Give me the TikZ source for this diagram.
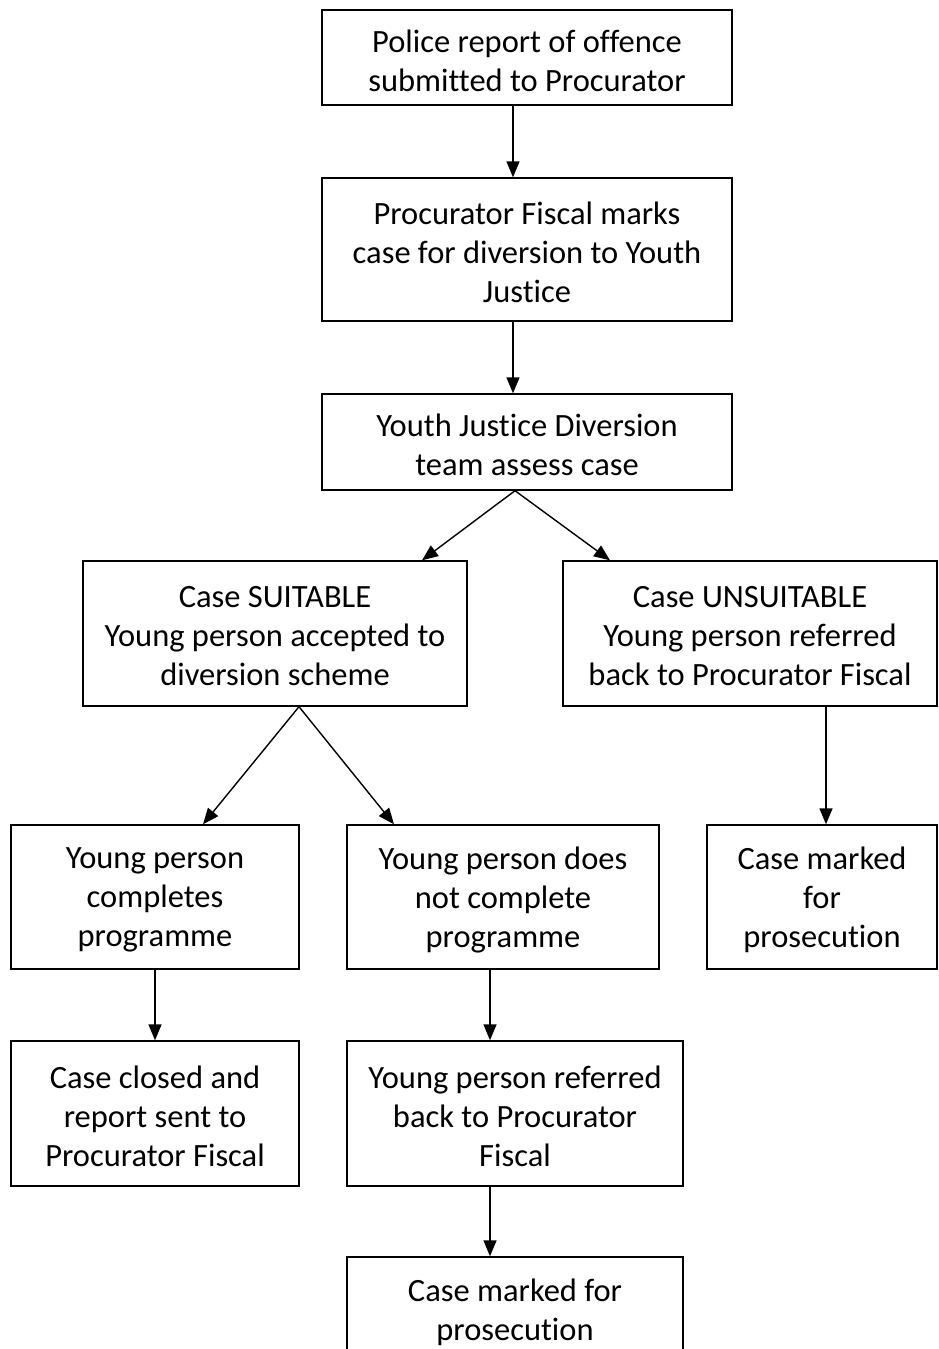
\documentclass[tikz,border=0pt]{standalone}
\usepackage{fontspec}
\setmainfont[Ligatures=NoCommon]{Carlito}
\usetikzlibrary{arrows.meta}
\begin{document}
\begin{tikzpicture}[x=1pt,y=-1pt,
  box/.style={draw, line width=1.4pt, inner sep=0pt, align=center,
    font=\fontsize{32.5}{39}\selectfont},
  txt/.style={inner sep=0pt, align=center, font=\fontsize{32.5}{39}\selectfont, yshift=-3pt},
  arr/.style={line width=1.4pt, -{Triangle[length=16pt,width=13pt]}}]
\useasboundingbox (0,0) rectangle (938,1349);
\clip (0,0) rectangle (938,1349);
\node[box, minimum width=410pt, minimum height=95pt]  (b1)  at (527,57.5)   {};
\node[box, minimum width=410pt, minimum height=143pt] (b2)  at (527,249.5)  {};
\node[box, minimum width=410pt, minimum height=96pt]  (b3)  at (527,442)    {};
\node[box, minimum width=384pt, minimum height=145pt] (b4)  at (275,633.5)  {};
\node[box, minimum width=374pt, minimum height=145pt] (b5)  at (750,633.5)  {};
\node[box, minimum width=288pt, minimum height=144pt] (b6)  at (155,897)    {};
\node[box, minimum width=312pt, minimum height=144pt] (b7)  at (503,897)    {};
\node[box, minimum width=230pt, minimum height=144pt] (b8)  at (822,897)    {};
\node[box, minimum width=288pt, minimum height=145pt] (b9)  at (155,1113.5) {};
\node[box, minimum width=336pt, minimum height=145pt] (b10) at (515,1113.5) {};
\node[box, minimum width=336pt, minimum height=104pt] (b11) at (515,1309)   {};
\node[txt] (t1)  at (b1)  {Police report of offence\\submitted to Procurator};
\node[txt] (t2)  at (b2)  {Procurator Fiscal marks\\case for diversion to Youth\\Justice};
\node[txt] (t3)  at (b3)  {Youth Justice Diversion\\team assess case};
\node[txt] (t4)  at (b4)  {Case SUITABLE\\Young person accepted to\\diversion scheme};
\node[txt] (t5)  at (b5)  {Case UNSUITABLE\\Young person referred\\back to Procurator Fiscal};
\node[txt] (t6)  at (b6)  {Young person\\completes\\programme};
\node[txt] (t7)  at (b7)  {Young person does\\not complete\\programme};
\node[txt] (t8)  at (b8)  {Case marked\\for\\prosecution};
\node[txt] (t9)  at (b9)  {Case closed and\\report sent to\\Procurator Fiscal};
\node[txt] (t10) at (b10) {Young person referred\\back to Procurator\\Fiscal};
\node[txt] (t11) at (b11) {Case marked for\\prosecution};
\draw[arr] ([xshift=-14pt]b1.south) -- ([xshift=-14pt]b2.north);
\draw[arr] ([xshift=-14pt]b2.south) -- ([xshift=-14pt]b3.north);
\draw[arr] ([xshift=-12pt]b3.south) -- ([xshift=147pt]b4.north);
\draw[arr] ([xshift=-12pt]b3.south) -- ([xshift=-140pt]b5.north);
\draw[arr] ([xshift=24pt]b4.south) -- ([xshift=48pt]b6.north);
\draw[arr] ([xshift=24pt]b4.south) -- ([xshift=-109pt]b7.north);
\draw[arr] ([xshift=76pt]b5.south) -- ([xshift=4pt]b8.north);
\draw[arr] (b6.south) -- (b9.north);
\draw[arr] ([xshift=-13pt]b7.south) -- ([xshift=-25pt]b10.north);
\draw[arr] ([xshift=-25pt]b10.south) -- ([xshift=-25pt]b11.north);
\end{tikzpicture}
\end{document}
